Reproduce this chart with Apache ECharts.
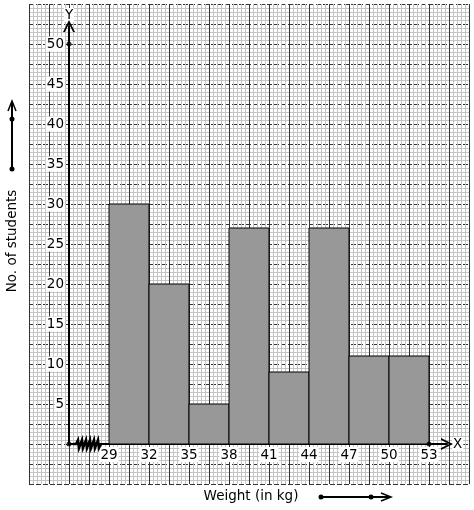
<!DOCTYPE html>
<html>
<head>
<meta charset="utf-8">
<script src="https://cdn.jsdelivr.net/npm/echarts@6/dist/echarts.min.js"></script>
<style>html,body{margin:0;padding:0;background:#fff}#c{width:474px;height:510px}</style>
</head>
<body>
<div id="c"></div>
<script>
// Class intervals (weight in kg) and frequencies
const classLower = [29, 32, 35, 38, 41, 44, 47, 50];
const classUpper = [32, 35, 38, 41, 44, 47, 50, 53];
const students   = [30, 20, 5, 27, 9, 27, 11, 11];
const xTickLabels = [29, 32, 35, 38, 41, 44, 47, 50, 53];
const yTickLabels = [5, 10, 15, 20, 25, 30, 35, 40, 45, 50];
const xAxisTitle = 'Weight (in kg)';
const yAxisTitle = 'No. of students';

const histData = classLower.map((lo, i) => [lo, classUpper[i], students[i]]);

const chevron = 'path://M0,10 L5,0 L10,10 L8.4,10 L5,3.2 L1.6,10 Z';
const FONT = 'DejaVu Sans';

const chart = echarts.init(document.getElementById('c'), null, {renderer: 'canvas'});
chart.setOption({
  animation: false,
  backgroundColor: '#fff',
  grid: [
    {left: 29, top: 4, width: 440, height: 480, containLabel: false},
    {left: 69, top: 26, width: 378, height: 418, containLabel: false}
  ],
  xAxis: [
    {
      gridIndex: 0, type: 'value', min: 0, max: 440, interval: 20,
      axisLine: {show: false}, axisTick: {show: false}, axisLabel: {show: false},
      splitLine: {show: true, lineStyle: {color: '#333', width: 1}},
      minorTick: {show: false, splitNumber: 5},
      minorSplitLine: {show: true, lineStyle: {color: '#c4c4c4', width: 1}}
    },
    {
      gridIndex: 1, type: 'value', min: 26, max: 54.35,
      splitLine: {show: false},
      axisLine: {show: true, onZero: false, symbol: ['none', chevron], symbolSize: [12, 12],
        lineStyle: {color: '#000', width: 2}},
      axisTick: {show: false},
      axisLabel: {show: true, customValues: xTickLabels, color: '#000', fontFamily: FONT, fontSize: 13.5,
        margin: 3, backgroundColor: '#fff', padding: [1, 1, 0, 1]},
      name: 'X', nameLocation: 'end', nameGap: 5,
      nameTextStyle: {color: '#000', fontFamily: FONT, fontSize: 13.5, backgroundColor: '#fff', padding: [0, 1]}
    }
  ],
  yAxis: [
    {
      gridIndex: 0, type: 'value', min: 0, max: 480, interval: 20,
      axisLine: {show: false}, axisTick: {show: false}, axisLabel: {show: false},
      splitLine: {show: true, lineStyle: {color: '#333', width: 1, type: [5, 2]}},
      minorTick: {show: false, splitNumber: 5},
      minorSplitLine: {show: true, lineStyle: {color: '#c4c4c4', width: 1}}
    },
    {
      gridIndex: 1, type: 'value', min: 0, max: 52.25,
      splitLine: {show: false},
      axisLine: {show: true, onZero: false, symbol: ['none', chevron], symbolSize: [12, 12],
        lineStyle: {color: '#000', width: 2}},
      axisTick: {show: false},
      axisLabel: {show: true, customValues: yTickLabels, color: '#000', fontFamily: FONT, fontSize: 13.5,
        margin: 4, backgroundColor: '#fff', padding: [1, 1, 0, 1]},
      name: 'Y', nameLocation: 'end', nameGap: 4,
      nameTextStyle: {color: '#000', fontFamily: FONT, fontSize: 13.5, backgroundColor: '#fff', padding: [0, 1]}
    }
  ],
  series: [
    {
      type: 'custom', xAxisIndex: 1, yAxisIndex: 1, z: 1,
      data: histData,
      encode: {x: [0, 1], y: 2},
      renderItem: function (params, api) {
        const p0 = api.coord([api.value(0), api.value(2)]);
        const p1 = api.coord([api.value(1), 0]);
        return {
          type: 'rect',
          shape: {x: p0[0], y: p0[1], width: p1[0] - p0[0], height: p1[1] - p0[1]},
          style: {fill: '#989898', stroke: '#000', lineWidth: 1}
        };
      }
    },
    {
      type: 'scatter', xAxisIndex: 1, yAxisIndex: 1, z: 5,
      symbolSize: 5, itemStyle: {color: '#000'},
      data: [[26, yTickLabels[yTickLabels.length - 1]], [xTickLabels[xTickLabels.length - 1], 0], [26, 0]],
      silent: true
    }
  ],
  graphic: [
    {
      type: 'polyline', z: 100,
      shape: {points: [[73,444],[76,444],[78,440],[79,448],[82,440],[83,448],[86,440],[87,448],[90,440],[91,448],[94,440],[95,448],[98,440],[99,448],[101,444]]},
      style: {stroke: '#000', lineWidth: 2.5, fill: null}
    },
    {
      type: 'text', x: 12, y: 241, rotation: Math.PI / 2, z: 100,
      style: {text: yAxisTitle, fill: '#000', font: '13.5px "DejaVu Sans"', align: 'center', verticalAlign: 'middle'}
    },
    {
      type: 'text', x: 251, y: 496, z: 100,
      style: {text: xAxisTitle, fill: '#000', font: '13.5px "DejaVu Sans"', align: 'center', verticalAlign: 'middle'}
    },
    // left arrow
    {type: 'line', z: 100, shape: {x1: 12, y1: 102, x2: 12, y2: 169}, style: {stroke: '#000', lineWidth: 2}},
    {type: 'polyline', z: 100, shape: {points: [[8,111],[12,101],[16,111]]}, style: {stroke: '#000', lineWidth: 1.5, fill: null}},
    {type: 'circle', z: 100, shape: {cx: 12, cy: 119, r: 2.5}, style: {fill: '#000'}},
    {type: 'circle', z: 100, shape: {cx: 12, cy: 169, r: 2.5}, style: {fill: '#000'}},
    // bottom arrow
    {type: 'line', z: 100, shape: {x1: 321, y1: 497, x2: 390, y2: 497}, style: {stroke: '#000', lineWidth: 2}},
    {type: 'polyline', z: 100, shape: {points: [[381,493],[391,497],[381,501]]}, style: {stroke: '#000', lineWidth: 1.5, fill: null}},
    {type: 'circle', z: 100, shape: {cx: 321, cy: 497, r: 2.5}, style: {fill: '#000'}},
    {type: 'circle', z: 100, shape: {cx: 371, cy: 497, r: 2.5}, style: {fill: '#000'}}
  ]
});
</script>
</body>
</html>
